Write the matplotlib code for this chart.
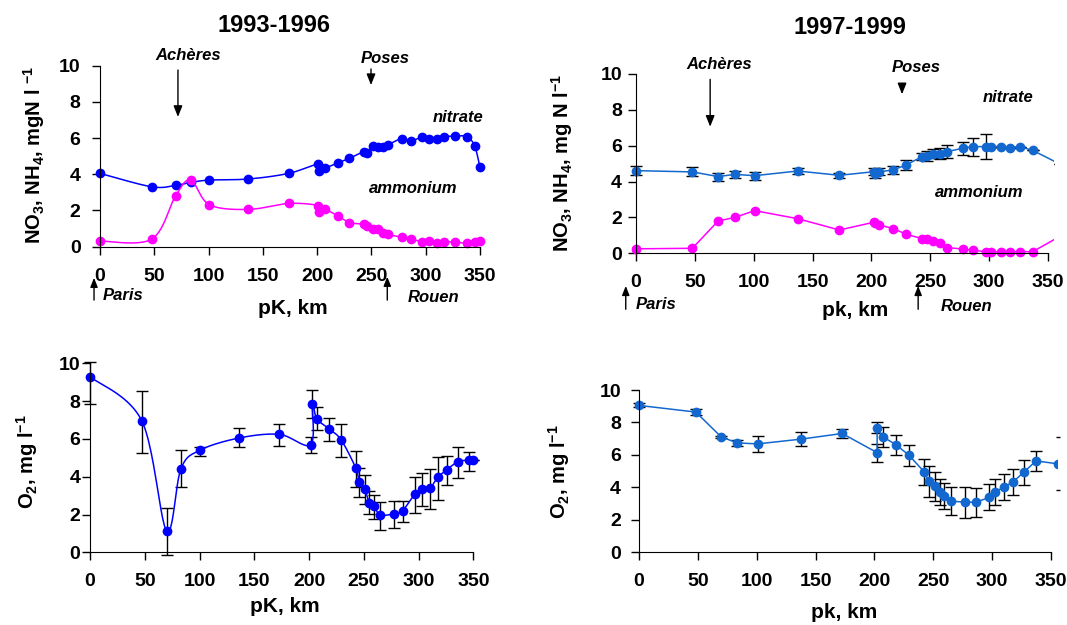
import numpy as np
import matplotlib
matplotlib.use('Agg')
import matplotlib.pyplot as plt

plt.rcParams['font.family'] = ['Liberation Sans', 'DejaVu Sans']
plt.rcParams['font.weight'] = 'bold'
plt.rcParams['mathtext.default'] = 'regular'

# ---- data ----
# 1993-1996, NO3 / NH4
km93 = [0, 47.6, 69.7, 83.5, 100.7, 136.6, 173.8, 201, 202, 207, 219.5, 229.6, 243, 245.6,
        251.7, 256.4, 260.3, 264.9, 277.8, 286, 297, 303, 310, 317, 327, 337.7, 345, 350]
nitrate93 = [4.05, 3.31, 3.39, 3.55, 3.68, 3.74, 4.05, 4.57, 4.2, 4.33, 4.64, 4.88, 5.25, 5.16,
             5.56, 5.52, 5.52, 5.62, 5.97, 5.82, 6.08, 5.97, 5.97, 6.08, 6.11, 6.08, 5.58, 4.38]
ammonium93 = [0.31, 0.42, 2.82, 3.68, 2.32, 2.06, 2.39, 2.27, 1.93, 2.06, 1.69, 1.33, 1.25, 1.16,
              0.96, 0.96, 0.74, 0.68, 0.52, 0.44, 0.26, 0.33, 0.22, 0.26, 0.26, 0.18, 0.28, 0.33]

# 1997-1999, NO3 / NH4 (last point lies past the axis end)
km97 = [0, 47.9, 69.7, 84, 100.8, 137.4, 172.8, 201.9, 203.3, 206.3, 218.7, 229.5, 243, 247,
        252.7, 258, 264.4, 277.4, 286, 297, 302, 310, 317.5, 326, 337, 360]
nitrate97 = [4.61, 4.54, 4.28, 4.4, 4.33, 4.59, 4.35, 4.55, 4.42, 4.54, 4.65, 4.93, 5.39, 5.43,
             5.56, 5.56, 5.67, 5.86, 5.95, 5.95, 5.95, 5.95, 5.89, 5.95, 5.74, 4.98]
nitrate97_err = [0.26, 0.25, 0.22, 0.18, 0.22, 0.15, 0.15, 0.2, 0.2, 0.2, 0.2, 0.3, 0.2, 0.3,
                 0.25, 0.3, 0.35, 0.35, 0.5, 0.68, 0, 0, 0, 0, 0, 0]
ammonium97 = [0.25, 0.28, 1.8, 2.0, 2.38, 1.93, 1.3, 1.73, 1.67, 1.58, 1.38, 1.06, 0.82, 0.82,
              0.69, 0.59, 0.32, 0.24, 0.17, 0.09, 0.09, 0.09, 0.09, 0.09, 0.09, 0.94]
ammonium97_err = [0.1, 0.1, 0.1, 0.1, 0.1, 0.08, 0.08, 0.08, 0.08, 0.08, 0.08, 0.08, 0.08, 0.08,
                  0.08, 0.08, 0.08, 0, 0, 0, 0, 0, 0, 0, 0, 0]

# 1993-1996, O2
km93o = [0, 47.2, 70, 83.1, 100.7, 136.3, 172.9, 201.5, 203, 207, 218.2, 229.4, 242.8, 245.9,
         251, 255, 259.6, 264.7, 277.2, 285.4, 296.7, 303.4, 310.4, 317.7, 325.6, 336.3, 346.3, 350]
oxygen93 = [9.29, 6.97, 1.13, 4.43, 5.41, 6.05, 6.24, 5.7, 7.87, 7.07, 6.54, 5.94, 4.44, 3.7,
            3.33, 2.63, 2.45, 1.98, 2.03, 2.2, 3.09, 3.33, 3.4, 3.97, 4.36, 4.8, 4.87, 4.9]
oxygen93_lo = [1.46, 1.73, 1.27, 0.99, 0.31, 0.49, 0.61, 0.46, 0.77, 0.6, 0.63, 0.91, 0.98, 0.75,
               0.77, 0.6, 0.69, 0.8, 0.76, 0.6, 1.03, 0.88, 1.11, 1.2, 0.78, 0.85, 0.57, 0]
oxygen93_hi = [0.79, 1.58, 1.23, 0.98, 0.18, 0.51, 0.57, 0.38, 0.73, 0.64, 0.56, 0.87, 0.94, 0.76,
               0.76, 0.63, 0.58, 0.68, 0.7, 0.53, 0.91, 0.89, 1.01, 1.09, 0.75, 0.79, 0.42, 0]

# 1997-1999, O2 (last point lies past the axis end)
km97o = [0, 48.3, 69.8, 83.5, 100.7, 137.4, 172.6, 202.3, 202.3, 206.9, 218.5, 229.3, 242.4, 246.2,
         251.1, 255.5, 259.3, 265.1, 277.3, 286, 297.7, 302.6, 310.2, 318, 326.8, 337.3, 356]
oxygen97 = [9.05, 8.64, 7.11, 6.74, 6.68, 6.97, 7.32, 6.14, 7.67, 7.13, 6.62, 5.98, 4.95, 4.37,
            4.06, 3.71, 3.46, 3.15, 3.09, 3.09, 3.38, 3.73, 4.02, 4.35, 4.93, 5.63, 5.45]
oxygen97_err = [0.12, 0.2, 0.06, 0.2, 0.47, 0.42, 0.25, 0.55, 0.35, 0.62, 0.6, 0.65, 0.8, 0.95,
                0.9, 0.8, 0.8, 0.85, 0.95, 0.9, 0.8, 0.8, 0.78, 0.8, 0.77, 0.6, 1.63]

yticks = [0, 2, 4, 6, 8, 10]
xticks = [0, 50, 100, 150, 200, 250, 300, 350]

BLUE = '#0000ff'
BLUE2 = '#1268cf'
MAGENTA = '#ff00ff'

W, H = 1067, 625
fig = plt.figure(figsize=(W / 100, H / 100), dpi=100)


def smooth(x, y, n=24):
    # Catmull-Rom curve through the points (like Excel's smoothed line)
    pts = np.column_stack([x, y]).astype(float)
    p = np.vstack([pts[0], pts, pts[-1]])
    t = np.linspace(0, 1, n, endpoint=False)[:, None]
    out = []
    for i in range(1, len(p) - 2):
        p0, p1, p2, p3 = p[i - 1], p[i], p[i + 1], p[i + 2]
        out.append(0.5 * (2 * p1 + (p2 - p0) * t + (2 * p0 - 5 * p1 + 4 * p2 - p3) * t ** 2
                          + (3 * p1 - p0 - 3 * p2 + p3) * t ** 3))
    out.append(pts[-1:])
    s = np.vstack(out)
    return s[:, 0], s[:, 1]


def panel(px0, px350, py0, py10, xlim, ylim, ypad):
    sx = (px350 - px0) / 350
    sy = (py0 - py10) / 10
    left = px0 + xlim[0] * sx
    right = px0 + xlim[1] * sx
    bottom = py0 - ylim[0] * sy
    top = py0 - ylim[1] * sy
    ax = fig.add_axes([left / W, 1 - bottom / H, (right - left) / W, (bottom - top) / H])
    ax.set_xlim(xlim)
    ax.set_ylim(ylim)
    for s in ['top', 'right']:
        ax.spines[s].set_visible(False)
    ax.spines['left'].set_position(('data', 0))
    ax.spines['bottom'].set_position(('data', 0))
    ax.spines['left'].set_bounds(0, 10)
    ax.spines['bottom'].set_bounds(0, 350)
    ax.set_xticks(xticks)
    ax.set_yticks(yticks)
    ax.tick_params(axis='both', direction='out', length=6, width=1, labelsize=14)
    ax.tick_params(axis='x', pad=9)
    ax.tick_params(axis='y', pad=ypad)
    for lab in ax.get_xticklabels() + ax.get_yticklabels():
        lab.set_fontweight('bold')
    return ax


def ftext(px, py, s, **kw):
    fig.text(px / W, 1 - py / H, s, ha='center', va='center', **kw)


def arrow(ax, x, y0, y1, scale=12):
    ax.annotate('', xy=(x, y1), xytext=(x, y0), annotation_clip=False,
                arrowprops=dict(arrowstyle='-|>,head_length=0.55,head_width=0.22',
                                color='black', lw=1, mutation_scale=scale, shrinkA=0, shrinkB=0))


def label(ax, x, y, s):
    ax.text(x, y, s, ha='center', va='center', fontsize=12, fontweight='bold',
            style='italic', clip_on=False)


# ---- top left: 1993-1996 nutrients ----
ax1 = panel(100, 480, 246.7, 65.7, (-5, 356), (-0.3, 10.2), 8)
xs, ys = smooth(km93, nitrate93)
ax1.plot(xs, ys, color=BLUE, lw=1.1, clip_on=False)
ax1.plot(km93, nitrate93, 'o', color=BLUE, ms=6, clip_on=False)
xs, ys = smooth(km93, ammonium93)
ax1.plot(xs, ys, color=MAGENTA, lw=1.1, clip_on=False)
ax1.plot(km93, ammonium93, 'o', color=MAGENTA, ms=6, clip_on=False)
label(ax1, 81, 10.59, 'Achères')
arrow(ax1, 71.8, 9.76, 7.17)
label(ax1, 262.5, 10.42, 'Poses')
arrow(ax1, 249.6, 9.82, 8.93)
label(ax1, 329.7, 7.16, 'nitrate')
label(ax1, 288.3, 3.24, 'ammonium')
label(ax1, 21.5, -2.67, 'Paris')
arrow(ax1, -5.5, -2.95, -1.72, scale=10)
label(ax1, 307, -2.8, 'Rouen')
arrow(ax1, 264.6, -2.95, -1.66, scale=10)
ftext(274, 25, '1993-1996', fontsize=17, fontweight='bold')
ftext(293, 309, 'pK, km', fontsize=15, fontweight='bold')
ftext(34, 155, r'NO$_3$, NH$_4$, mgN l $^{-1}$', fontsize=14.5, fontweight='bold', rotation=90)

# ---- top right: 1997-1999 nutrients ----
ax2 = panel(636, 1048, 253.3, 74, (-5, 355), (-0.3, 10.2), 4)
ax2.errorbar(km97, nitrate97, yerr=nitrate97_err, fmt='none', ecolor='black', elinewidth=1,
             capsize=4, capthick=1)
ax2.plot(km97, nitrate97, '-o', color=BLUE2, lw=1.1, ms=6)
ax2.errorbar(km97, ammonium97, yerr=ammonium97_err, fmt='none', ecolor='#c000c0', elinewidth=1,
             capsize=3, capthick=1)
ax2.plot(km97, ammonium97, '-o', color=MAGENTA, lw=1.1, ms=6)
label(ax2, 70.6, 10.54, 'Achères')
arrow(ax2, 63.0, 9.70, 7.06)
label(ax2, 238.2, 10.35, 'Poses')
arrow(ax2, 226, 9.48, 8.87)
label(ax2, 316, 8.70, 'nitrate')
label(ax2, 291.4, 3.38, 'ammonium')
label(ax2, 17, -2.83, 'Paris')
arrow(ax2, -8.7, -3.12, -1.82, scale=10)
label(ax2, 281, -2.94, 'Rouen')
arrow(ax2, 239.7, -3.12, -1.82, scale=10)
ftext(850, 27, '1997-1999', fontsize=17, fontweight='bold')
ftext(855, 311, 'pk, km', fontsize=15, fontweight='bold')
ftext(562, 163, r'NO$_3$, NH$_4$, mg N l$^{-1}$', fontsize=14.5, fontweight='bold', rotation=90)

# ---- bottom left: 1993-1996 oxygen ----
ax3 = panel(90, 473.3, 552.3, 363.3, (-5, 356), (-0.3, 10.3), 1)
ax3.errorbar(km93o, oxygen93, yerr=[oxygen93_lo, oxygen93_hi], fmt='none', ecolor='black',
             elinewidth=1, capsize=4, capthick=1, clip_on=False)
xs, ys = smooth(km93o, oxygen93)
ax3.plot(xs, ys, color=BLUE, lw=1.1, clip_on=False)
ax3.plot(km93o, oxygen93, 'o', color=BLUE, ms=6, clip_on=False)
ftext(285, 607, 'pK, km', fontsize=15, fontweight='bold')
ftext(27, 462, r'O$_2$, mg l$^{-1}$', fontsize=14.5, fontweight='bold', rotation=90)

# ---- bottom right: 1997-1999 oxygen ----
ax4 = panel(639, 1051, 552.3, 390, (-5, 355), (-0.3, 10.2), 7)
ax4.errorbar(km97o[:-1], oxygen97[:-1], yerr=oxygen97_err[:-1], fmt='none', ecolor='black',
             elinewidth=1, capsize=4, capthick=1)
# the point past the axis end only shows its caps
eb = ax4.errorbar(km97o[-1:], oxygen97[-1:], yerr=oxygen97_err[-1:], fmt='none', ecolor='black',
                  elinewidth=1, capsize=1.2, capthick=1)
for cap in eb[1]:
    cap.set_clip_on(False)
ax4.plot(km97o, oxygen97, '-o', color=BLUE2, lw=1.1, ms=6)
ftext(844, 613, 'pk, km', fontsize=15, fontweight='bold')
ftext(559, 472, r'O$_2$, mg l$^{-1}$', fontsize=14.5, fontweight='bold', rotation=90)

fig.savefig('out.png', dpi=100)
